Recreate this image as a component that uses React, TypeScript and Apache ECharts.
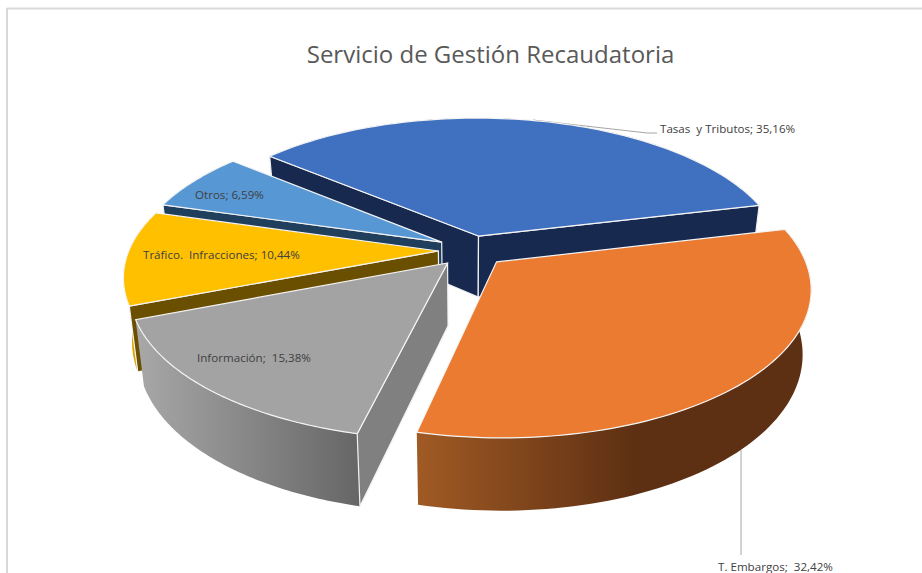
import React, { useEffect, useRef } from "react";
import * as echarts from "echarts";

const categories = ["Tasas y Tributos", "T. Embargos", "Información", "Tráfico. Infracciones", "Otros"];
const shownLabels = ["Tasas  y Tributos; 35,16%", "T. Embargos;  32,42%", "Información;  15,38%", "Tráfico.  Infracciones; 10,44%", "Otros; 6,59%"];
const values = [35.16, 32.42, 15.38, 10.44, 6.59];

const startAngle = -50;
const topColors = ["#4070C0", "#EB7B31", "#A3A3A3", "#FFC000", "#5798D4"];
const wallColors = ["#17294F", "#5E3013", "#808080", "#6B4F00", "#1F3F5C"];
const rimStops: [number, string][][] = [
  [[0, "#17294F"], [1, "#17294F"]],
  [[0, "#A05A24"], [0.55, "#5E3013"], [1, "#5E3013"]],
  [[0, "#A8A8A8"], [1, "#666666"]],
  [[0, "#E8AE00"], [1, "#B88A00"]],
  [[0, "#1F3F5C"], [1, "#1F3F5C"]],
];
const explodeX = [0.035, 0.092, -0.066, -0.097, -0.087];
const explodeY = [0.1, -0.083, -0.09, -0.007, 0.056];
const radiusScale = [1, 1, 1.01, 1.014, 1.01];
const paintRank = [0, 4, 3, 2, 1];
const labelAt: [number, number][] = [[660, 128.5], [718, 566], [197, 357.5], [143, 254.5], [195, 194.5]];

const CX = 468, CY = 250, RX = 305, RY = 142, PERSP = 0.1675;

function proj(wx: number, wy: number, low: boolean): number[] {
  const s = 1 / (1 + PERSP * wy);
  let x = CX + RX * wx * s;
  let y = CY - RY * wy * s;
  if (low) {
    x = CX + (x - CX) * 0.975;
    y += 62 - 10 * wy;
  }
  return [x, y];
}

function area(p: number[][]): number {
  let a = 0;
  for (let i = 0; i < p.length; i++) {
    const q = p[(i + 1) % p.length];
    a += p[i][0] * q[1] - q[0] * p[i][1];
  }
  return a;
}

const total = values.reduce((a, b) => a + b, 0);

function renderSlice(params: any, api: any) {
  const i = params.dataIndex;
  const before = values.slice(0, i).reduce((a, b) => a + b, 0);
  const a0 = startAngle + (before / total) * 360;
  const a1 = a0 + (api.value(0) / total) * 360;
  const ox = explodeX[i], oy = explodeY[i], rs = radiusScale[i];
  const top: number[][] = [], low: number[][] = [];
  const n = 80;
  for (let k = 0; k <= n; k++) {
    const t = ((a0 + ((a1 - a0) * k) / n) * Math.PI) / 180;
    const wx = ox + rs * Math.sin(t), wy = oy + Math.cos(t);
    top.push(proj(wx, wy, false));
    low.push(proj(wx, wy, true));
  }
  const tipT = proj(ox, oy, false), tipL = proj(ox, oy, true);
  const z = paintRank[i] * 10;
  const children: any[] = [];
  const topFace = [tipT, ...top];
  const orient = Math.sign(area(topFace));
  children.push({
    type: "polygon",
    z2: z,
    shape: { points: [...top, ...low.slice().reverse()] },
    style: { fill: new echarts.graphic.LinearGradient(0, 0, 1, 0, rimStops[i].map(([offset, color]) => ({ offset, color }))) },
  });
  const wall = (a: number[], b: number[], aL: number[], bL: number[]) => {
    const q = [a, b, bL, aL];
    if (Math.sign(area(q)) !== orient) {
      children.push({
        type: "polygon",
        z2: z + 1,
        shape: { points: q },
        style: { fill: wallColors[i], stroke: "#F2F2F2", lineWidth: 1.2 },
      });
    }
  };
  wall(tipT, top[0], tipL, low[0]);
  wall(top[n], tipT, low[n], tipL);
  children.push({
    type: "polygon",
    z2: z + 2,
    shape: { points: topFace },
    style: { fill: topColors[i], stroke: "#F4F4F4", lineWidth: 1.2 },
  });
  children.push({
    type: "text",
    z2: 100,
    style: {
      text: shownLabels[i],
      x: labelAt[i][0],
      y: labelAt[i][1],
      fill: "#404040",
      font: '11.6px "Open Sans"',
      textVerticalAlign: "middle",
    },
  });
  return { type: "group", children };
}

export default function App() {
  const ref = useRef<HTMLDivElement>(null);
  useEffect(() => {
    const chart = echarts.init(ref.current!, undefined, { renderer: "svg" });
    chart.setOption({
      animation: false,
      backgroundColor: "#FFFFFF",
      title: {
        text: "Servicio de Gestión Recaudatoria",
        left: 485.5,
        top: 36,
        textAlign: "center",
        textStyle: { color: "#595959", fontFamily: "Open Sans", fontSize: 24, fontWeight: "normal" },
      },
      graphic: [
        { type: "line", shape: { x1: 7, y1: 8.5, x2: 922, y2: 8.5 }, style: { stroke: "#D9D9D9", lineWidth: 2 } },
        { type: "line", shape: { x1: 7, y1: 8, x2: 7, y2: 573 }, style: { stroke: "#D9D9D9", lineWidth: 2 } },
        { type: "polyline", z: 0, shape: { points: [[533, 120], [647, 133], [657, 133]] }, style: { stroke: "#A6A6A6", lineWidth: 1, fill: "none" } },
        { type: "line", shape: { x1: 741, y1: 450, x2: 741, y2: 555 }, style: { stroke: "#A6A6A6", lineWidth: 1 } },
      ],
      series: [
        {
          type: "custom",
          coordinateSystem: "none",
          name: "Servicio de Gestión Recaudatoria",
          renderItem: renderSlice,
          data: values.map((v, i) => ({ name: categories[i], value: [v] })),
          silent: true,
          clip: false,
        },
      ],
    });
    return () => chart.dispose();
  }, []);
  return <div ref={ref} style={{ position: "fixed", left: 0, top: 0, width: 922, height: 573 }} />;
}
